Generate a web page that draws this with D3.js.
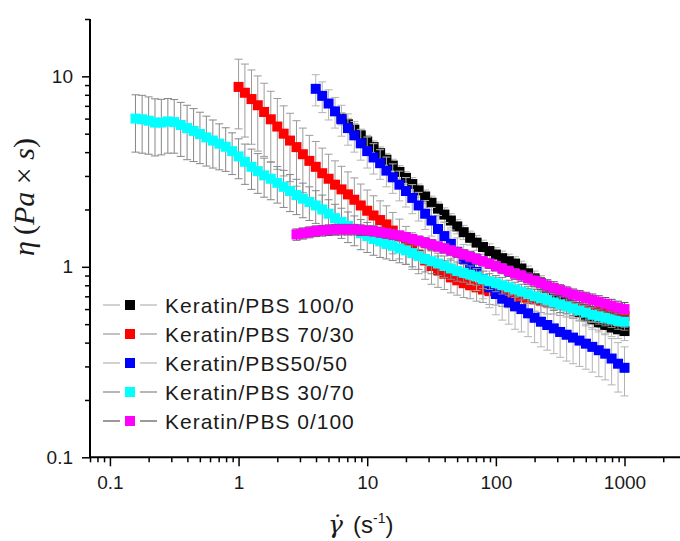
<!DOCTYPE html>
<html>
<head>
<meta charset="utf-8">
<script src="https://cdn.jsdelivr.net/npm/d3@7"></script>
<style>
  html, body { margin: 0; padding: 0; background: #fff; }
  svg text { font-family: "Liberation Sans", Arial, sans-serif; }
</style>
</head>
<body>
<div id="chart"></div>
<script>
// shear rates of the rheometer ramp (s^-1), every series ends at 1000
const shearRate = [0.158, 0.178, 0.2, 0.224, 0.251, 0.282, 0.316, 0.355, 0.398, 0.447, 0.501, 0.562, 0.631, 0.708, 0.794, 0.891,
  1, 1.12, 1.26, 1.41, 1.58, 1.78, 2, 2.24, 2.51, 2.82, 3.16, 3.55, 3.98, 4.47, 5.01, 5.62, 6.31, 7.08, 7.94, 8.91,
  10, 11.2, 12.6, 14.1, 15.8, 17.8, 20, 22.4, 25.1, 28.2, 31.6, 35.5, 39.8, 44.7, 50.1, 56.2, 63.1, 70.8, 79.4, 89.1,
  100, 112, 126, 141, 158, 178, 200, 224, 251, 282, 316, 355, 398, 447, 501, 562, 631, 708, 794, 891, 1000];

// viscosity (Pa s) and its error, aligned to the end of shearRate
const eta100_0 = [6.0, 5.6, 5.25, 4.9,
  4.55, 4.25, 3.95, 3.65, 3.4, 3.15, 2.93, 2.72, 2.52, 2.34, 2.17, 2.02, 1.88, 1.75, 1.63, 1.52, 1.42, 1.34, 1.27, 1.21,
  1.16, 1.11, 1.07, 1.04, 0.98, 0.925, 0.87, 0.82, 0.775, 0.73, 0.69, 0.65, 0.615, 0.58, 0.55, 0.53, 0.51, 0.495, 0.48, 0.47,
  0.46];
const err100_0 = [0.45, 0.42, 0.4, 0.37,
  0.35, 0.33, 0.31, 0.29, 0.27, 0.25, 0.23, 0.22, 0.2, 0.19, 0.18, 0.17, 0.16, 0.15, 0.14, 0.13, 0.12, 0.12, 0.11, 0.11,
  0.1, 0.1, 0.095, 0.09, 0.09, 0.085, 0.08, 0.08, 0.075, 0.07, 0.07, 0.065, 0.065, 0.06, 0.06, 0.06, 0.055, 0.055, 0.05, 0.05,
  0.05];

const eta70_30 = [8.8, 8.2, 7.6, 7.05, 6.5, 5.95, 5.45, 5.0, 4.6, 4.25, 3.9, 3.6, 3.35, 3.1, 2.9, 2.7, 2.55, 2.4, 2.25, 2.1,
  1.97, 1.86, 1.76, 1.67, 1.55, 1.44, 1.33, 1.24, 1.16, 1.08, 1.01, 0.96, 0.92, 0.88, 0.85, 0.82, 0.8, 0.78, 0.76, 0.745,
  0.73, 0.72, 0.71, 0.7, 0.69, 0.68, 0.675, 0.665, 0.655, 0.645, 0.635, 0.625, 0.615, 0.605, 0.595, 0.585, 0.58, 0.572, 0.565, 0.558,
  0.552];
const err70_30 = [3.5, 3.4, 3.2, 3.0, 2.7, 2.4, 2.2, 2.0, 1.8, 1.6, 1.45, 1.3, 1.2, 1.1, 1.0, 0.9, 0.82, 0.75, 0.68, 0.62,
  0.56, 0.5, 0.46, 0.42, 0.38, 0.34, 0.3, 0.27, 0.24, 0.22, 0.2, 0.18, 0.16, 0.15, 0.14, 0.13, 0.12, 0.12, 0.11, 0.11,
  0.1, 0.1, 0.1, 0.1, 0.09, 0.09, 0.09, 0.09, 0.09, 0.08, 0.08, 0.08, 0.08, 0.08, 0.08, 0.07, 0.07, 0.07, 0.07, 0.07,
  0.07];

const eta50_50 = [8.6, 7.9, 7.2, 6.55, 5.95, 5.35, 4.9, 4.45,
  4.05, 3.75, 3.5, 3.2, 2.95, 2.7, 2.5, 2.3, 2.1, 1.9, 1.75, 1.58, 1.45, 1.32, 1.2, 1.1, 1.01, 0.94, 0.86, 0.78,
  0.72, 0.68, 0.65, 0.62, 0.6, 0.57, 0.54, 0.515, 0.495, 0.475, 0.455, 0.44, 0.425, 0.41, 0.395, 0.38, 0.365, 0.35, 0.33, 0.31,
  0.295];
const err50_50 = [1.6, 1.45, 1.3, 1.2, 1.1, 1.0, 0.9, 0.82,
  0.75, 0.68, 0.62, 0.57, 0.52, 0.48, 0.44, 0.4, 0.36, 0.33, 0.3, 0.28, 0.26, 0.24, 0.22, 0.21, 0.2, 0.19, 0.18, 0.17,
  0.16, 0.155, 0.15, 0.15, 0.145, 0.14, 0.14, 0.135, 0.13, 0.125, 0.12, 0.12, 0.115, 0.11, 0.105, 0.1, 0.1, 0.095, 0.09, 0.09,
  0.085];

const eta30_70 = [6.0, 5.95, 5.85, 5.72, 5.72, 5.8, 5.75, 5.55, 5.35, 5.17, 4.98, 4.78, 4.6, 4.43, 4.27, 4.05,
  3.8, 3.56, 3.35, 3.18, 3.02, 2.9, 2.76, 2.63, 2.5, 2.38, 2.28, 2.19, 2.1, 2.0, 1.9, 1.8, 1.72, 1.64, 1.57, 1.5,
  1.45, 1.4, 1.36, 1.32, 1.29, 1.25, 1.22, 1.18, 1.14, 1.1, 1.07, 1.04, 1.01, 0.98, 0.95, 0.93, 0.91, 0.89, 0.86, 0.84,
  0.82, 0.8, 0.78, 0.76, 0.74, 0.72, 0.7, 0.685, 0.67, 0.65, 0.635, 0.62, 0.605, 0.59, 0.575, 0.56, 0.55, 0.54, 0.53, 0.52,
  0.515];
const err30_70 = [2.0, 2.0, 1.95, 1.9, 1.85, 1.85, 1.8, 1.75, 1.7, 1.6, 1.5, 1.4, 1.3, 1.2, 1.1, 1.0,
  0.9, 0.85, 0.8, 0.75, 0.7, 0.65, 0.6, 0.58, 0.55, 0.5, 0.47, 0.44, 0.41, 0.38, 0.35, 0.33, 0.31, 0.3, 0.28, 0.27,
  0.26, 0.25, 0.24, 0.22, 0.21, 0.2, 0.19, 0.18, 0.17, 0.16, 0.15, 0.14, 0.13, 0.12, 0.11, 0.1, 0.1, 0.09, 0.09, 0.08,
  0.08, 0.08, 0.07, 0.07, 0.07, 0.07, 0.06, 0.06, 0.06, 0.06, 0.06, 0.05, 0.05, 0.05, 0.05, 0.05, 0.05, 0.05, 0.05, 0.05,
  0.05];

const eta0_100 = [1.48, 1.5, 1.52, 1.54, 1.55, 1.56, 1.57, 1.57, 1.57, 1.57, 1.56,
  1.55, 1.54, 1.52, 1.5, 1.48, 1.46, 1.43, 1.4, 1.37, 1.34, 1.31, 1.28, 1.25, 1.22, 1.19, 1.16, 1.13, 1.1, 1.07, 1.04,
  1.01, 0.98, 0.95, 0.92, 0.9, 0.87, 0.845, 0.82, 0.795, 0.775, 0.755, 0.735, 0.715, 0.7, 0.685, 0.67, 0.655, 0.64, 0.625, 0.61,
  0.6];
const err0_100 = [0.1, 0.1, 0.1, 0.1, 0.1, 0.1, 0.1, 0.1, 0.1, 0.1, 0.1,
  0.09, 0.09, 0.09, 0.09, 0.09, 0.08, 0.08, 0.08, 0.08, 0.08, 0.08, 0.07, 0.07, 0.07, 0.07, 0.07, 0.07, 0.07, 0.06, 0.06,
  0.06, 0.06, 0.06, 0.06, 0.06, 0.06, 0.06, 0.06, 0.06, 0.06, 0.05, 0.05, 0.05, 0.05, 0.05, 0.05, 0.05, 0.05, 0.05, 0.05,
  0.05];

const seriesNames = ["Keratin/PBS 100/0", "Keratin/PBS 70/30", "Keratin/PBS50/50", "Keratin/PBS 30/70", "Keratin/PBS 0/100"];
const seriesColors = ["#000000", "#ff0000", "#0000ff", "#00ffff", "#ff00ff"];
const barColors = ["#b4b4b4", "#9c9c9c", "#b4b4b4", "#878787", "#585858"];
const seriesValues = [eta100_0, eta70_30, eta50_50, eta30_70, eta0_100];
const seriesErrors = [err100_0, err70_30, err50_50, err30_70, err0_100];

const xMajorTicks = [0.1, 1, 10, 100, 1000];
const yMajorTicks = [0.1, 1, 10];

const width = 680, height = 541;
const svg = d3.select("#chart").append("svg")
  .attr("width", width)
  .attr("height", height);

const x = d3.scaleLog().domain([0.07, 2700]).range([90, 680]);
const y = d3.scaleLog().domain([0.1, 20]).range([457.3, 19]);

// minor ticks at 2..9 of every decade inside the domain
function minorTicks(scale) {
  const [lo, hi] = scale.domain();
  const out = [];
  for (let p = Math.floor(Math.log10(lo)); p <= Math.ceil(Math.log10(hi)); p++) {
    for (let m = 2; m <= 9; m++) {
      const v = m * Math.pow(10, p);
      if (v >= lo && v <= hi) out.push(v);
    }
  }
  return out;
}

const fmt = d => (d < 1 ? d3.format(".1f")(d) : d3.format("d")(d));

// data layer: draw order black, red, blue, cyan, magenta
const plot = svg.append("g");
const markerSize = 10;
seriesValues.forEach((vals, s) => {
  const errs = seriesErrors[s];
  const offset = shearRate.length - vals.length;
  const pts = vals.map((v, i) => ({ x: shearRate[offset + i], y: v, e: errs[i] }));
  const g = plot.append("g");

  g.append("path")
    .datum(pts)
    .attr("fill", "none")
    .attr("stroke", barColors[s])
    .attr("stroke-width", 1)
    .attr("d", d3.line().x(d => x(d.x)).y(d => y(d.y)));

  const bars = g.selectAll(".err").data(pts).enter().append("g")
    .attr("stroke", barColors[s])
    .attr("stroke-width", 1);
  const lowY = d => y(Math.max(d.y - d.e, 0.1));
  bars.append("line")
    .attr("x1", d => x(d.x)).attr("x2", d => x(d.x))
    .attr("y1", d => y(d.y + d.e)).attr("y2", lowY);
  bars.append("line")
    .attr("x1", d => x(d.x) - 4).attr("x2", d => x(d.x) + 4)
    .attr("y1", d => y(d.y + d.e)).attr("y2", d => y(d.y + d.e));
  bars.append("line")
    .attr("x1", d => x(d.x) - 4).attr("x2", d => x(d.x) + 4)
    .attr("y1", lowY).attr("y2", lowY);

  g.selectAll(".pt").data(pts).enter().append("rect")
    .attr("x", d => x(d.x) - markerSize / 2)
    .attr("y", d => y(d.y) - markerSize / 2)
    .attr("width", markerSize)
    .attr("height", markerSize)
    .attr("fill", seriesColors[s]);
});

// axes
const xAxisY = 457.3;
svg.append("g")
  .attr("transform", `translate(0,${xAxisY})`)
  .call(d3.axisBottom(x).tickValues(minorTicks(x)).tickSize(5).tickFormat(""))
  .call(g => g.select(".domain").remove());
svg.append("g")
  .attr("transform", `translate(0,${xAxisY})`)
  .call(d3.axisBottom(x).tickValues(xMajorTicks).tickSize(9).tickPadding(9).tickFormat(fmt))
  .call(g => g.select(".domain").attr("stroke-width", 2).attr("d", "M90,0H680"));

svg.append("g")
  .attr("transform", "translate(90,0)")
  .call(d3.axisLeft(y).tickValues(minorTicks(y)).tickSize(5).tickFormat(""))
  .call(g => g.select(".domain").remove());
svg.append("g")
  .attr("transform", "translate(90,0)")
  .call(d3.axisLeft(y).tickValues(yMajorTicks).tickSize(8).tickPadding(9).tickFormat(fmt))
  .call(g => g.select(".domain").attr("stroke-width", 2).attr("d", "M0,19V457.3"));

svg.selectAll(".tick line").attr("stroke", "#000").attr("stroke-width", 1.5);
svg.selectAll(".tick text").attr("font-size", 19).attr("fill", "#1a1a1a")
  .attr("font-family", "Liberation Sans, Arial, sans-serif");

// legend
const legend = svg.append("g");
seriesNames.forEach((name, i) => {
  const cy = 305 + i * 29;
  const row = legend.append("g");
  row.append("line").attr("x1", 103).attr("x2", 120).attr("y1", cy).attr("y2", cy)
    .attr("stroke", barColors[i]).attr("stroke-width", 1.2);
  row.append("line").attr("x1", 140).attr("x2", 157).attr("y1", cy).attr("y2", cy)
    .attr("stroke", barColors[i]).attr("stroke-width", 1.2);
  row.append("rect").attr("x", 125).attr("y", cy - 5).attr("width", 10).attr("height", 10)
    .attr("fill", seriesColors[i]);
  row.append("text").attr("x", 165).attr("y", cy + 7.5)
    .attr("font-size", 21).attr("letter-spacing", 1).attr("fill", "#1a1a1a")
    .text(name);
});

// axis titles
const serif = "Liberation Serif, 'DejaVu Serif', serif";
const yTitle = svg.append("text")
  .attr("transform", "translate(34,197) rotate(-90)")
  .attr("text-anchor", "middle")
  .attr("font-size", 30)
  .attr("fill", "#1a1a1a")
  .style("font-family", serif);
yTitle.append("tspan").attr("font-style", "italic").text("η");
yTitle.append("tspan").text("\u2009(");
yTitle.append("tspan").attr("font-style", "italic").text("Pa");
yTitle.append("tspan").text(" \u00d7 ");
yTitle.append("tspan").attr("font-style", "italic").text("s");
yTitle.append("tspan").text(")");

// gamma with combining dot above, then the unit
const xTitle = svg.append("text")
  .attr("x", 328)
  .attr("y", 533)
  .attr("fill", "#1a1a1a");
xTitle.append("tspan")
  .attr("font-size", 25)
  .attr("font-style", "italic")
  .style("font-family", "'DejaVu Serif', serif")
  .text("γ\u0307");
xTitle.append("tspan").attr("x", 353).attr("font-size", 24).text("(s");
xTitle.append("tspan").attr("font-size", 14).attr("dy", -10).text("-1");
xTitle.append("tspan").attr("font-size", 24).attr("dy", 10).text(")");
</script>
</body>
</html>
